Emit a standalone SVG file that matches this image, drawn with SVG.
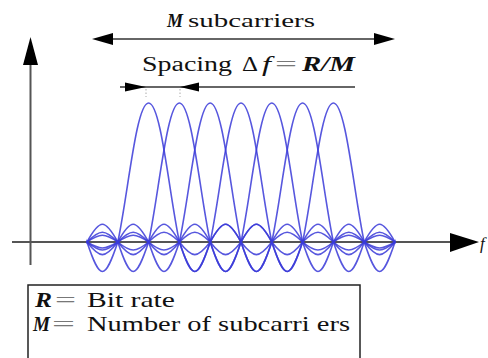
<svg xmlns="http://www.w3.org/2000/svg" xmlns:xlink="http://www.w3.org/1999/xlink" width="488" height="358" viewBox="0 0 488 358">
<style>
.axis{stroke:#555;stroke-width:2;fill:none}
.dim{stroke:#333;stroke-width:1.6;fill:none}
.head{fill:#000;stroke:none}
.tick{stroke:#aaa;stroke-width:1;stroke-dasharray:1.5 2}
.curve{fill:none;stroke:#3a3ad8;stroke-width:1.6;stroke-opacity:0.85}
text{font-family:'Liberation Serif','DejaVu Serif',serif;fill:#111}
.bi{font-weight:bold;font-style:italic}
.it{font-style:italic}
.eq{fill:#777}
</style>
<defs>
<path id="sinc" d="M -246.4 0 C -233.33 7.9 -228.67 7.9 -215.6 0 C -202.53 -9.1 -197.87 -9.1 -184.8 0 C -171.73 10.7 -167.07 10.7 -154 0 C -140.93 -13.1 -136.27 -13.1 -123.2 0 C -110.13 16.8 -105.47 16.8 -92.4 0 C -79.33 -23.6 -74.67 -23.6 -61.6 0 C -48.53 39.3 -43.87 39.3 -30.8 0 C -20.53 -48 -12.5 -139 0 -139 C 12.5 -139 20.53 -48 30.8 0 C 43.87 39.3 48.53 39.3 61.6 0 C 74.67 -23.6 79.33 -23.6 92.4 0 C 105.47 16.8 110.13 16.8 123.2 0 C 136.27 -13.1 140.93 -13.1 154 0 C 167.07 10.7 171.73 10.7 184.8 0 C 197.87 -9.1 202.53 -9.1 215.6 0 C 228.67 7.9 233.33 7.9 246.4 0"/>
<clipPath id="band" clipPathUnits="userSpaceOnUse"><rect x="86.5" y="0" width="309" height="358"/></clipPath>
</defs>
<rect width="488" height="358" fill="#fff"/>

<g id="connectors">
  <line class="axis" x1="30.5" y1="62" x2="30.5" y2="265"/>
  <polygon class="head" points="30.5,37 23,65 38,65"/>
  <line class="axis" x1="12" y1="242" x2="452" y2="242"/>
  <polygon class="head" points="479,242 450,233 450,252"/>
  <line class="dim" x1="105" y1="39" x2="383" y2="39"/>
  <polygon class="head" points="92,39 113,33 113,45"/>
  <polygon class="head" points="395,39 374,33 374,45"/>
  <line class="dim" x1="120" y1="87" x2="355" y2="87"/>
  <polygon class="head" points="146,87 125,82.5 125,91.5"/>
  <polygon class="head" points="180,87 199,82.5 199,91.5"/>
  <line class="tick" x1="146" y1="89" x2="146" y2="97"/>
  <line class="tick" x1="180" y1="89" x2="180" y2="97"/>
</g>

<g id="subcarriers" clip-path="url(#band)">
  <g id="sc1"><use xlink:href="#sinc" class="curve" transform="translate(148.6,242)"/></g>
  <g id="sc2"><use xlink:href="#sinc" class="curve" transform="translate(179.4,242)"/></g>
  <g id="sc3"><use xlink:href="#sinc" class="curve" transform="translate(210.2,242)"/></g>
  <g id="sc4"><use xlink:href="#sinc" class="curve" transform="translate(241,242)"/></g>
  <g id="sc5"><use xlink:href="#sinc" class="curve" transform="translate(271.8,242)"/></g>
  <g id="sc6"><use xlink:href="#sinc" class="curve" transform="translate(302.6,242)"/></g>
  <g id="sc7"><use xlink:href="#sinc" class="curve" transform="translate(333.4,242)"/></g>
</g>

<g id="label-m-subcarriers">
  <text class="bi" x="167" y="27" font-size="18" textLength="16" lengthAdjust="spacingAndGlyphs">M</text>
  <text x="188" y="27" font-size="18" textLength="127" lengthAdjust="spacingAndGlyphs">subcarriers</text>
</g>

<g id="label-spacing">
  <text x="142" y="71" font-size="20" textLength="90" lengthAdjust="spacingAndGlyphs">Spacing</text>
  <text x="242" y="71" font-size="20" textLength="16" lengthAdjust="spacingAndGlyphs">Δ</text>
  <text class="it" x="262" y="71" font-size="20" textLength="9" lengthAdjust="spacingAndGlyphs">f</text>
  <text class="eq" x="275" y="71" font-size="20" textLength="22" lengthAdjust="spacingAndGlyphs">=</text>
  <text class="bi" x="302" y="71" font-size="20" textLength="53" lengthAdjust="spacingAndGlyphs">R/M</text>
</g>

<g id="axis-label">
  <text class="it" x="480" y="249" font-size="17">f</text>
</g>

<g id="legend">
  <rect x="28" y="285" width="332" height="90" fill="none" stroke="#222" stroke-width="1.5"/>
  <text class="bi" x="35" y="307" font-size="22" textLength="17" lengthAdjust="spacingAndGlyphs">R</text>
  <text class="eq" x="55" y="307" font-size="22" textLength="21" lengthAdjust="spacingAndGlyphs">=</text>
  <text x="87" y="307" font-size="22" textLength="88" lengthAdjust="spacingAndGlyphs">Bit rate</text>
  <text class="bi" x="33" y="331" font-size="22" textLength="17" lengthAdjust="spacingAndGlyphs">M</text>
  <text class="eq" x="52" y="331" font-size="22" textLength="23" lengthAdjust="spacingAndGlyphs">=</text>
  <text x="87" y="331" font-size="22" textLength="263" lengthAdjust="spacingAndGlyphs">Number of subcarri ers</text>
</g>
</svg>
